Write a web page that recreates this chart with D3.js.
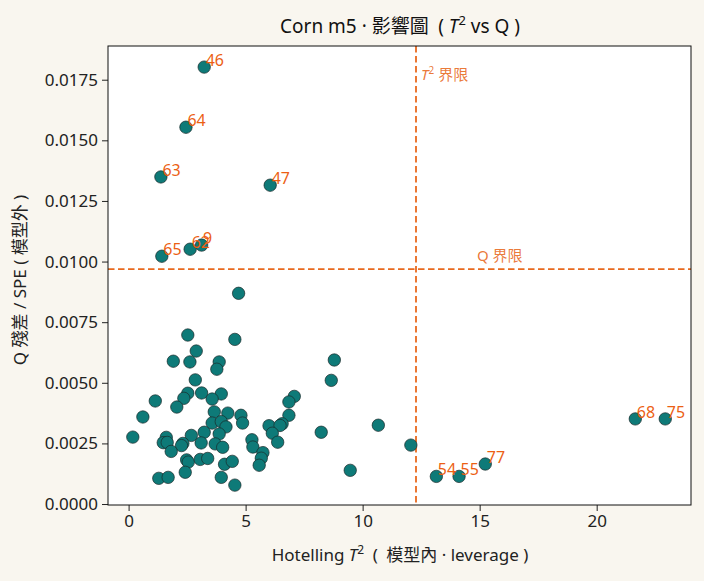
<!DOCTYPE html>
<html>
<head>
<meta charset="utf-8">
<script src="https://cdn.jsdelivr.net/npm/d3@7"></script>
<style>
  body { margin: 0; background: #f9f6ef; }
  svg { display: block; font-family: "Noto Sans", "Noto Sans CJK TC", sans-serif; }
  .tick text { font-size: 17px; fill: #222; font-family: "Noto Sans", sans-serif; }
  .tick line { stroke: #222; }
</style>
</head>
<body>
<div id="chart"></div>
<script>
// sample data: T2 (leverage) and Q (residual)
const sampleIds = [46, 64, 63, 47, 65, 62, 9, 0, 54, 55, 77, 68, 75];
const t2Flagged = [3.23, 2.45, 1.38, 6.05, 1.42, 2.63, 3.12, 12.06, 13.15, 14.12, 15.24, 21.65, 22.93];
const qFlagged = [0.01802, 0.01554, 0.01349, 0.01315, 0.01022, 0.01051, 0.01068, 0.00243, 0.00114, 0.00114, 0.00165, 0.00351, 0.00351];
// only points beyond a limit get a label (index 7 is under the limit)
const labelled = [true, true, true, true, true, true, true, false, true, true, true, true, true];

const t2Rest = [4.70, 2.53, 4.54, 2.89, 1.91, 2.62, 3.87, 3.77, 8.79, 8.66, 2.85, 2.53, 2.36, 3.12, 3.96, 3.57,
  1.14, 2.06, 7.08, 6.85, 6.85, 0.61, 3.66, 4.24, 4.80, 4.87, 3.57, 3.96, 4.16, 3.87, 3.23, 2.68, 0.18, 1.61,
  1.48, 1.65, 2.32, 2.26, 3.10, 3.70, 4.02, 1.82, 6.00, 6.56, 6.47, 6.14, 6.37, 5.27, 5.31, 5.74, 5.67, 5.58,
  8.23, 10.67, 9.47, 2.48, 2.55, 3.06, 3.38, 4.10, 4.43, 2.42, 1.29, 1.69, 3.96, 4.54];
const qRest = [0.00869, 0.00697, 0.00679, 0.00631, 0.00589, 0.00586, 0.00586, 0.00556, 0.00594, 0.00510, 0.00512,
  0.00457, 0.00436, 0.00458, 0.00454, 0.00433, 0.00425, 0.00400, 0.00444, 0.00421, 0.00366, 0.00359, 0.00380,
  0.00375, 0.00366, 0.00334, 0.00334, 0.00340, 0.00318, 0.00289, 0.00296, 0.00283, 0.00276, 0.00275, 0.00253,
  0.00254, 0.00250, 0.00241, 0.00252, 0.00248, 0.00234, 0.00217, 0.00323, 0.00331, 0.00324, 0.00292, 0.00255,
  0.00265, 0.00235, 0.00212, 0.00189, 0.00160, 0.00296, 0.00325, 0.00139, 0.00182, 0.00173, 0.00184, 0.00188,
  0.00164, 0.00176, 0.00131, 0.00106, 0.00110, 0.00110, 0.00078];

const t2Limit = 12.28;
const qLimit = 0.00969;

const xTicks = [0, 5, 10, 15, 20];
const yTicks = [0, 0.0025, 0.005, 0.0075, 0.01, 0.0125, 0.015, 0.0175];

const svgWidth = 704;
const svgHeight = 581;
const margin = { top: 46, right: 13, bottom: 76, left: 108 };
const width = svgWidth - margin.left - margin.right;
const height = svgHeight - margin.top - margin.bottom;

const orange = "#e8691e";
const sp = "\u2002"; // en space round the brackets

const svg = d3.select("#chart")
  .append("svg")
  .attr("width", svgWidth)
  .attr("height", svgHeight);

const chartGroup = svg.append("g")
  .attr("transform", `translate(${margin.left}, ${margin.top})`);

const x = d3.scaleLinear().domain([-0.88, 24.03]).range([0, width]);
const y = d3.scaleLinear().domain([-0.00004, 0.01889]).range([height, 0]);

chartGroup.append("rect")
  .attr("width", width)
  .attr("height", height)
  .attr("fill", "#fff");

// axes
chartGroup.append("g")
  .attr("transform", `translate(0, ${height})`)
  .call(d3.axisBottom(x).tickValues(xTicks).tickFormat(d3.format("d")).tickSize(6).tickPadding(4))
  .call(g => g.select(".domain").remove());

chartGroup.append("g")
  .call(d3.axisLeft(y).tickValues(yTicks).tickFormat(d3.format(".4f")).tickSize(6).tickPadding(4))
  .call(g => g.select(".domain").remove());

// merge all points
const points = t2Rest.map((t, i) => ({ t2: t, q: qRest[i], id: null }))
  .concat(t2Flagged.map((t, i) => ({ t2: t, q: qFlagged[i], id: labelled[i] ? sampleIds[i] : null })));

// limit lines
chartGroup.append("line")
  .attr("x1", x(t2Limit)).attr("x2", x(t2Limit))
  .attr("y1", 0).attr("y2", height)
  .attr("stroke", orange).attr("stroke-width", 1.8)
  .attr("stroke-dasharray", "6.5,3.5");

chartGroup.append("line")
  .attr("x1", 0).attr("x2", width)
  .attr("y1", y(qLimit)).attr("y2", y(qLimit))
  .attr("stroke", orange).attr("stroke-width", 1.8)
  .attr("stroke-dasharray", "6.5,3.5");

chartGroup.selectAll("circle")
  .data(points)
  .enter()
  .append("circle")
  .attr("cx", d => x(d.t2))
  .attr("cy", d => y(d.q))
  .attr("r", 6.2)
  .attr("fill", "#0e7a78")
  .attr("stroke", "#1a2a2a")
  .attr("stroke-width", 0.7);

chartGroup.selectAll(null)
  .data(points.filter(d => d.id !== null))
  .enter()
  .append("text")
  .attr("x", d => x(d.t2) + 1.5)
  .attr("y", d => y(d.q) - 1)
  .attr("font-size", "16px")
  .attr("fill", "#ec5f14")
  .text(d => d.id);

// limit labels
const t2Lab = chartGroup.append("text")
  .attr("x", x(t2Limit) + 5)
  .attr("y", 34)
  .attr("font-size", "15px")
  .attr("fill", orange)
  .attr("fill-opacity", 0.9);
t2Lab.append("tspan").attr("font-style", "italic").text("T");
t2Lab.append("tspan").attr("dy", -6).attr("font-size", "10px").text("2");
t2Lab.append("tspan").attr("dy", 6).text(" 界限");

chartGroup.append("text")
  .attr("x", x(t2Limit) + 61)
  .attr("y", y(qLimit) - 8)
  .attr("font-size", "15px")
  .attr("fill", orange)
  .attr("fill-opacity", 0.9)
  .text("Q 界限");

// frame
chartGroup.append("rect")
  .attr("width", width)
  .attr("height", height)
  .attr("fill", "none")
  .attr("stroke", "#111")
  .attr("stroke-width", 1);

// title
const title = svg.append("text")
  .attr("x", 400)
  .attr("y", 33)
  .attr("text-anchor", "middle")
  .attr("font-size", "19px")
  .attr("fill", "#111");
title.append("tspan").text(`Corn m5 · 影響圖${sp}( `);
title.append("tspan").attr("font-style", "italic").text("T");
title.append("tspan").attr("dy", -8).attr("font-size", "13px").text("2");
title.append("tspan").attr("dy", 8).text(" vs Q )");

// x label
const xLab = svg.append("text")
  .attr("x", 400)
  .attr("y", 561)
  .attr("text-anchor", "middle")
  .attr("font-size", "17px")
  .attr("fill", "#222");
xLab.append("tspan").text("Hotelling ");
xLab.append("tspan").attr("font-style", "italic").text("T");
xLab.append("tspan").attr("dy", -7).attr("font-size", "12px").text("2");
xLab.append("tspan").attr("dy", 7).text(`${sp}(${sp}模型內 · leverage )`);

// y label
svg.append("text")
  .attr("transform", "translate(26, 280) rotate(-90)")
  .attr("text-anchor", "middle")
  .attr("font-size", "17px")
  .attr("fill", "#222")
  .text("Q 殘差 / SPE ( 模型外 )");
</script>
</body>
</html>
